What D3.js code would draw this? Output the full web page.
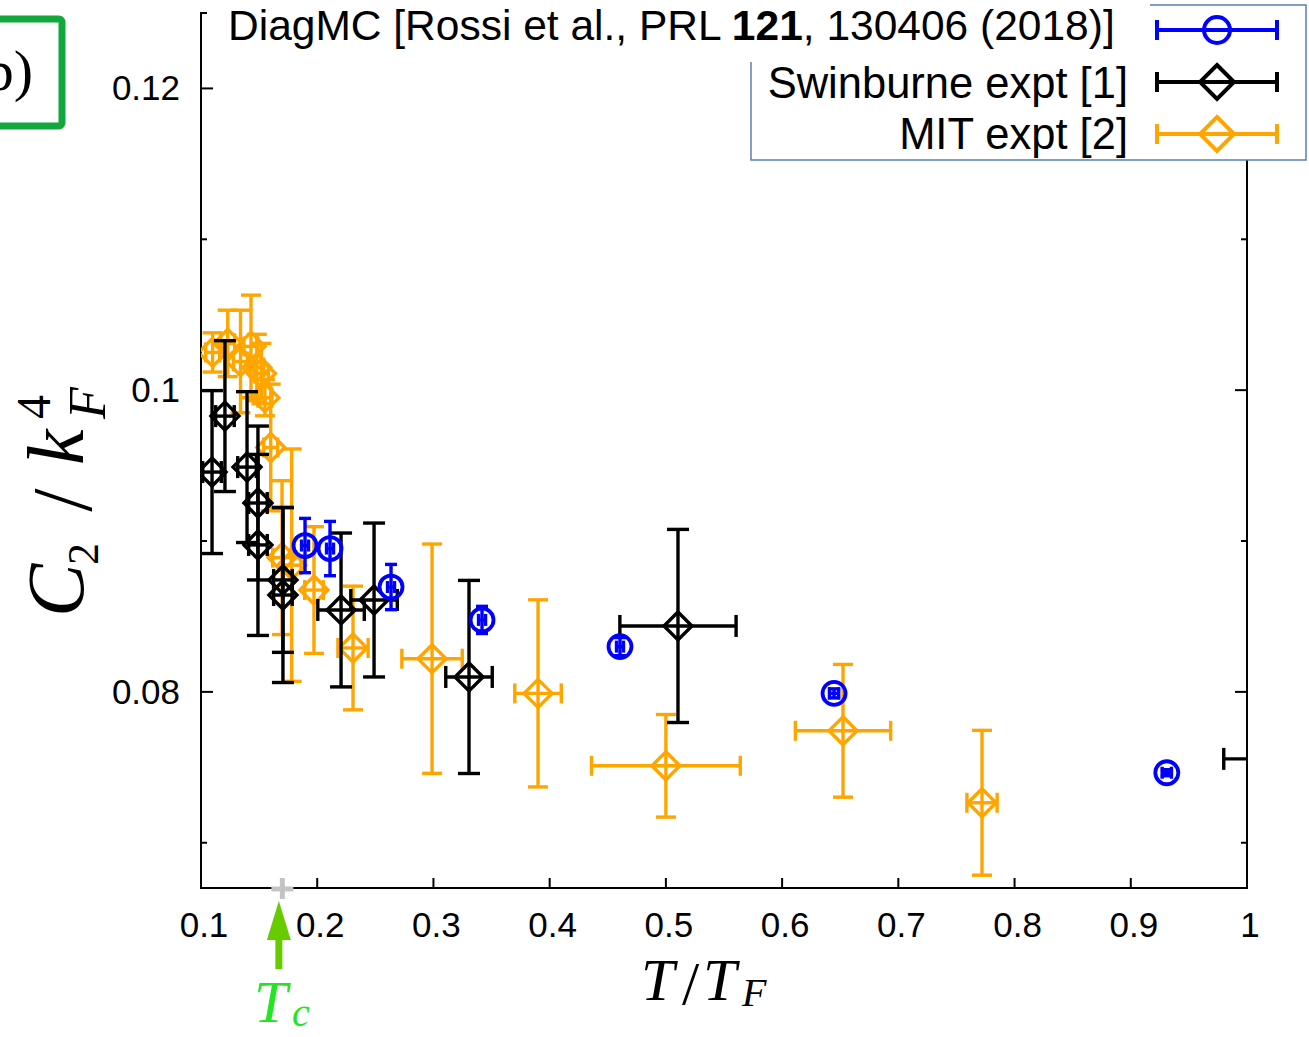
<!DOCTYPE html>
<html><head><meta charset="utf-8">
<script src="https://cdn.jsdelivr.net/npm/d3@7"></script>
<style>body{margin:0;background:#fff}svg{display:block}</style>
</head><body>
<script>
// ---------- data ----------
const diagT   = [0.1895, 0.211, 0.2635, 0.3418, 0.4605, 0.6447, 0.931];
const diagC   = [0.0897, 0.0895, 0.08695, 0.08477, 0.0830, 0.0799, 0.07464];
const diagCErr= [0.0018, 0.0018, 0.0015, 0.0009, 0.0006, 0.0003, 0.0002];
const diagTErr= [0.003, 0.003, 0.003, 0.003, 0.003, 0.004, 0.004];

const swinT    = [0.1095, 0.1206, 0.1396, 0.149, 0.149, 0.1705, 0.1705, 0.2205, 0.2489, 0.3306, 0.5104, 1.03];
const swinC    = [0.09457, 0.09828, 0.0949, 0.09252, 0.08974, 0.08742, 0.08642, 0.08543, 0.08609, 0.08099, 0.08437, 0.07556];
const swinCErr = [0.0054, 0.0050, 0.0050, 0.0051, 0.0060, 0.0048, 0.0058, 0.0051, 0.0051, 0.0064, 0.0064, 0.004];
const swinTErr = [0.008, 0.008, 0.008, 0.008, 0.008, 0.008, 0.008, 0.020, 0.020, 0.020, 0.050, 0.05];

const mitT    = [0.110, 0.123, 0.134, 0.143, 0.148, 0.152, 0.155, 0.160, 0.1697, 0.178, 0.1972, 0.2308, 0.2988, 0.390, 0.500, 0.6524, 0.772];
const mitC    = [0.1025, 0.1031, 0.1019, 0.1029, 0.1015, 0.1011, 0.0995, 0.0962, 0.0889, 0.0884, 0.08675, 0.08291, 0.0822, 0.0799, 0.0751, 0.07742, 0.07265];
const mitCErr = [0.0013, 0.0022, 0.0034, 0.0034, 0.0022, 0.0020, 0.0012, 0.0042, 0.0051, 0.0077, 0.0042, 0.0041, 0.0076, 0.0062, 0.0034, 0.0044, 0.0048];
const mitTErr = [0.006, 0.006, 0.006, 0.006, 0.006, 0.006, 0.006, 0.006, 0.008, 0.008, 0.008, 0.013, 0.026, 0.020, 0.064, 0.041, 0.013];

const xTicks = [0.1, 0.2, 0.3, 0.4, 0.5, 0.6, 0.7, 0.8, 0.9, 1.0];
const xTickLabels = ["0.1","0.2","0.3","0.4","0.5","0.6","0.7","0.8","0.9","1"];
const yMajor = [0.08, 0.10, 0.12];
const yMajorLabels = ["0.08","0.1","0.12"];
const yMinor = [0.07, 0.09, 0.11];
const Tc = 0.167;
const TcMarker = 0.170;

// ---------- setup ----------
const W = 1309, H = 1037;
const L = 201, R = 1247, T0 = 13, B = 888;
const x = d3.scaleLinear().domain([0.1, 1]).range([L, R]);
const y = d3.scaleLinear().domain([0.067, 0.125]).range([B, T0]);

const svg = d3.select("body").append("svg").attr("width", W).attr("height", H)
  .style("font-family", "'Liberation Sans', Arial, sans-serif");

svg.append("defs").append("clipPath").attr("id", "plotclip")
  .append("rect").attr("x", L).attr("y", T0).attr("width", R - L).attr("height", B - T0);

// frame
svg.append("rect").attr("x", L).attr("y", T0).attr("width", R - L).attr("height", B - T0)
  .attr("fill", "none").attr("stroke", "#000").attr("stroke-width", 2);

// x ticks (bottom, inward)
const ax = svg.append("g");
xTicks.forEach((t, i) => {
  ax.append("line").attr("x1", x(t)).attr("x2", x(t)).attr("y1", B).attr("y2", B - 10)
    .attr("stroke", "#000").attr("stroke-width", 2);
  ax.append("text").attr("x", x(t) + 3).attr("y", 937).attr("text-anchor", "middle")
    .attr("font-size", 35).text(xTickLabels[i]);
});
// y ticks (both sides, inward)
yMajor.forEach((v, i) => {
  ax.append("line").attr("x1", L).attr("x2", L + 12).attr("y1", y(v)).attr("y2", y(v)).attr("stroke", "#000").attr("stroke-width", 2);
  ax.append("line").attr("x1", R).attr("x2", R - 12).attr("y1", y(v)).attr("y2", y(v)).attr("stroke", "#000").attr("stroke-width", 2);
  ax.append("text").attr("x", 180).attr("y", y(v) + 12).attr("text-anchor", "end")
    .attr("font-size", 35).text(yMajorLabels[i]);
});
yMinor.forEach(v => {
  ax.append("line").attr("x1", L).attr("x2", L + 6).attr("y1", y(v)).attr("y2", y(v)).attr("stroke", "#000").attr("stroke-width", 2);
  ax.append("line").attr("x1", R).attr("x2", R - 6).attr("y1", y(v)).attr("y2", y(v)).attr("stroke", "#000").attr("stroke-width", 2);
});

// ---------- data drawing ----------
const plot = svg.append("g").attr("clip-path", "url(#plotclip)");

function errorBars(g, Ts, Cs, TE, CE, color, cap, sw) {
  Ts.forEach((t, i) => {
    const cx = x(t), cy = y(Cs[i]);
    const y1 = y(Cs[i] - CE[i]), y2 = y(Cs[i] + CE[i]);
    const x1 = x(t - TE[i]), x2 = x(t + TE[i]);
    const s = g.append("g").attr("stroke", color).attr("stroke-width", sw).attr("fill", "none");
    s.append("line").attr("x1", cx).attr("x2", cx).attr("y1", y1).attr("y2", y2);
    s.append("line").attr("x1", cx - cap).attr("x2", cx + cap).attr("y1", y1).attr("y2", y1);
    s.append("line").attr("x1", cx - cap).attr("x2", cx + cap).attr("y1", y2).attr("y2", y2);
    s.append("line").attr("x1", x1).attr("x2", x2).attr("y1", cy).attr("y2", cy);
    s.append("line").attr("x1", x1).attr("x2", x1).attr("y1", cy - cap).attr("y2", cy + cap);
    s.append("line").attr("x1", x2).attr("x2", x2).attr("y1", cy - cap).attr("y2", cy + cap);
  });
}
const diamond = s => `M0,${-s}L${s},0L0,${s}L${-s},0Z`;

// MIT (orange)
const gM = plot.append("g");
errorBars(gM, mitT, mitC, mitTErr, mitCErr, "#ffa500", 10, 3.4);
gM.selectAll("path.m").data(mitT).join("path")
  .attr("transform", (t, i) => `translate(${x(t)},${y(mitC[i])})`)
  .attr("d", diamond(14)).attr("fill", "none").attr("stroke", "#ffa500").attr("stroke-width", 3.4);

// Swinburne (black)
const gS = plot.append("g");
errorBars(gS, swinT, swinC, swinTErr, swinCErr, "#000", 11, 3.4);
gS.selectAll("path.s").data(swinT).join("path")
  .attr("transform", (t, i) => `translate(${x(t)},${y(swinC[i])})`)
  .attr("d", diamond(14)).attr("fill", "none").attr("stroke", "#000").attr("stroke-width", 3.4);

// DiagMC (blue)
const gD = plot.append("g");
errorBars(gD, diagT, diagC, diagTErr, diagCErr, "#0000ff", 6, 3.4);
gD.selectAll("circle").data(diagT).join("circle")
  .attr("cx", t => x(t)).attr("cy", (t, i) => y(diagC[i])).attr("r", 11.5)
  .attr("fill", "none").attr("stroke", "#0000ff").attr("stroke-width", 3.8);

// Tc marker (gray plus) and arrow
const px = x(TcMarker);
svg.append("g").attr("stroke", "#c4c4c4").attr("stroke-width", 5)
  .call(g => {
    g.append("line").attr("x1", px - 11).attr("x2", px + 11).attr("y1", B + 1).attr("y2", B + 1);
    g.append("line").attr("x1", px).attr("x2", px).attr("y1", B - 10).attr("y2", B + 11);
  });
const ar = x(Tc);
svg.append("line").attr("x1", ar).attr("x2", ar).attr("y1", 935).attr("y2", 969)
  .attr("stroke", "#66cc00").attr("stroke-width", 7);
svg.append("path").attr("d", `M${ar},901L${ar + 12},940L${ar - 12},940Z`).attr("fill", "#66cc00");

// ---------- legend ----------
svg.append("rect").attr("x", 751).attr("y", 5).attr("width", 555).attr("height", 155)
  .attr("fill", "#fff").attr("stroke", "#5b7db8").attr("stroke-width", 1.5);
svg.append("rect").attr("x", 207).attr("y", 0).attr("width", 943).attr("height", 62).attr("fill", "#fff");

const legendNames = ["Swinburne expt [1]", "MIT expt [2]"];
const legT = svg.append("text").attr("x", 228).attr("y", 40).attr("font-size", 42.5);
legT.append("tspan").text("DiagMC [Rossi et al., PRL ");
legT.append("tspan").attr("font-weight", "bold").text("121");
legT.append("tspan").text(", 130406 (2018)]");
svg.append("text").attr("x", 1128).attr("y", 98).attr("text-anchor", "end").attr("font-size", 43.5).text(legendNames[0]);
svg.append("text").attr("x", 1128).attr("y", 149).attr("text-anchor", "end").attr("font-size", 43.5).text(legendNames[1]);

function legSym(yy, color, kind) {
  const g = svg.append("g").attr("stroke", color).attr("stroke-width", 4).attr("fill", "none");
  g.append("line").attr("x1", 1157).attr("x2", 1277).attr("y1", yy).attr("y2", yy);
  g.append("line").attr("x1", 1157).attr("x2", 1157).attr("y1", yy - 10).attr("y2", yy + 10);
  g.append("line").attr("x1", 1277).attr("x2", 1277).attr("y1", yy - 10).attr("y2", yy + 10);
  if (kind === "c") g.append("circle").attr("cx", 1217).attr("cy", yy).attr("r", 13).attr("stroke-width", 4);
  else g.append("path").attr("transform", `translate(1217,${yy})`).attr("d", diamond(17)).attr("stroke-width", 4);
}
legSym(30, "#0000ff", "c");
legSym(82, "#000", "d");
legSym(134, "#ffa500", "d");

// ---------- axis titles ----------
const serif = "'Liberation Serif', 'DejaVu Serif', serif";
const yl = svg.append("g").attr("transform", "translate(83,495) rotate(-90)")
  .style("font-family", serif).attr("fill", "#000");
yl.append("text").attr("x", -122).attr("y", 0).attr("font-size", 80).attr("font-style", "italic").text("C");
yl.append("text").attr("x", -70).attr("y", 15).attr("font-size", 44).text("2");
yl.append("text").attr("x", -5).attr("y", 8).attr("text-anchor", "middle").attr("font-size", 84).text("/");
yl.append("text").attr("x", 30).attr("y", 0).attr("font-size", 80).attr("font-style", "italic").text("k");
yl.append("text").attr("x", 76).attr("y", 22).attr("font-size", 52).attr("font-style", "italic").text("F");
yl.append("text").attr("x", 76).attr("y", -33).attr("font-size", 48).text("4");

const xl = svg.append("g").style("font-family", serif);
xl.append("text").attr("x", 641).attr("y", 1000).attr("font-size", 60).attr("font-style", "italic").text("T");
xl.append("text").attr("x", 682).attr("y", 1004).attr("font-size", 62).text("/");
xl.append("text").attr("x", 703).attr("y", 1000).attr("font-size", 60).attr("font-style", "italic").text("T");
xl.append("text").attr("x", 742).attr("y", 1006).attr("font-size", 40).attr("font-style", "italic").text("F");

const tc = svg.append("g").style("font-family", serif).attr("fill", "#22e622");
tc.append("text").attr("x", 254).attr("y", 1022).attr("font-size", 60).attr("font-style", "italic").text("T");
tc.append("text").attr("x", 292).attr("y", 1026).attr("font-size", 40).attr("font-style", "italic").text("c");

// panel label box (partially outside the page, as in the reference)
svg.append("rect").attr("x", -20).attr("y", 19).attr("width", 82).attr("height", 107).attr("rx", 3)
  .attr("fill", "none").attr("stroke", "#13a83b").attr("stroke-width", 7);
svg.append("text").attr("x", 33).attr("y", 90).attr("text-anchor", "end")
  .style("font-family", serif).attr("font-size", 58).text("(b)");
</script>
</body></html>
